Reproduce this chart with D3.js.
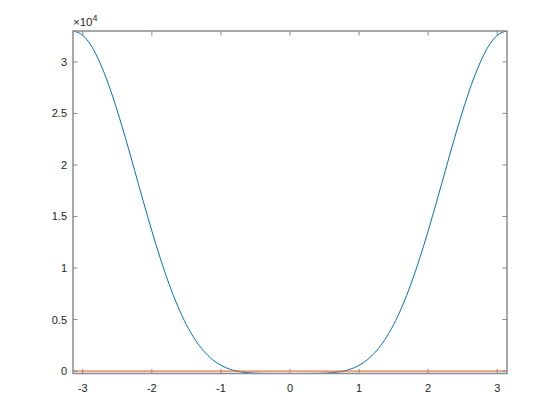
<!DOCTYPE html>
<html><head><meta charset="utf-8">
<script src="https://cdn.jsdelivr.net/npm/d3@7"></script>
<style>body{margin:0;background:#fff}svg{display:block}</style>
</head><body>
<svg id="c" width="560" height="420"></svg>
<script>
const xs = [-3.1416,-3.0,-2.875,-2.75,-2.625,-2.5,-2.375,-2.25,-2.125,-2.0,-1.875,-1.75,-1.625,-1.5,-1.375,-1.25,-1.125,-1.0,-0.875,-0.75,-0.625,-0.5,-0.375,-0.25,-0.125,0,
            0.125,0.25,0.375,0.5,0.625,0.75,0.875,1.0,1.125,1.25,1.375,1.5,1.625,1.75,1.875,2.0,2.125,2.25,2.375,2.5,2.625,2.75,2.875,3.0,3.1416];
const blue = [33000,32578,31544,29895,27775,25238,22450,19478,16493,13591,10882,8429,6292,4503,3064,1944,1126,554,184,-38,-157,-212,-233,-239,-240,-240,
              -240,-239,-233,-212,-157,-38,184,554,1126,1944,3064,4503,6292,8429,10882,13591,16493,19478,22450,25238,27775,29895,31544,32578,33000];
const orangeX = [-3.1416, 3.1416];
const orange = [0, 0];
const xTicks = [-3,-2,-1,0,1,2,3];
const yTicks = [0,5000,10000,15000,20000,25000,30000];
const yTickLabels = ["0","0.5","1","1.5","2","2.5","3"];

const svg = d3.select("#c");
const L=73, R=507, T=31, B=373.5;
const x = d3.scaleLinear().domain([-Math.PI, Math.PI]).range([L, R]);
const y = d3.scaleLinear().domain([-240, 33000]).range([B, T]);

svg.append("clipPath").attr("id","cp").append("rect")
  .attr("x",L).attr("y",T).attr("width",R-L).attr("height",B-T);

const g = svg.append("g").attr("clip-path","url(#cp)");
const line = d3.line().x(d=>x(d[0])).y(d=>y(d[1])).curve(d3.curveMonotoneX);
g.append("path").datum(xs.map((v,i)=>[v,blue[i]])).attr("d",line)
  .attr("fill","none").attr("stroke","#0072BD").attr("stroke-width",1);
g.append("path").datum(orangeX.map((v,i)=>[v,orange[i]])).attr("d",d3.line().x(d=>x(d[0])).y(d=>y(d[1])))
  .attr("fill","none").attr("stroke","#D95319").attr("stroke-width",1.2).attr("opacity",0.8);

const axc = "#8a8a8a";
const font = "Liberation Sans, Arial, sans-serif";
svg.append("rect").attr("x",L).attr("y",T).attr("width",R-L).attr("height",B-T)
  .attr("fill","none").attr("stroke",axc).attr("stroke-width",1.5);

const ax = svg.append("g");
xTicks.forEach(t=>{
  ax.append("line").attr("x1",x(t)).attr("x2",x(t)).attr("y1",B).attr("y2",B-4.5).attr("stroke",axc);
  ax.append("line").attr("x1",x(t)).attr("x2",x(t)).attr("y1",T).attr("y2",T+4.5).attr("stroke",axc);
  ax.append("text").attr("x",x(t)).attr("y",B+18).attr("text-anchor","middle")
    .attr("font-family",font).attr("font-size",11).attr("fill","#262626").text(t);
});
yTicks.forEach((t,i)=>{
  ax.append("line").attr("x1",L).attr("x2",L+4.5).attr("y1",y(t)).attr("y2",y(t)).attr("stroke",axc);
  ax.append("line").attr("x1",R).attr("x2",R-4.5).attr("y1",y(t)).attr("y2",y(t)).attr("stroke",axc);
  ax.append("text").attr("x",L-6).attr("y",y(t)+4).attr("text-anchor","end")
    .attr("font-family",font).attr("font-size",11).attr("fill","#262626").text(yTickLabels[i]);
});
const ex = svg.append("text").attr("x",L).attr("y",T-5).attr("font-family",font).attr("font-size",11.5).attr("fill","#262626");
ex.append("tspan").text("×10");
ex.append("tspan").attr("dy",-5).attr("font-size",9).text("4");
</script>
</body></html>
